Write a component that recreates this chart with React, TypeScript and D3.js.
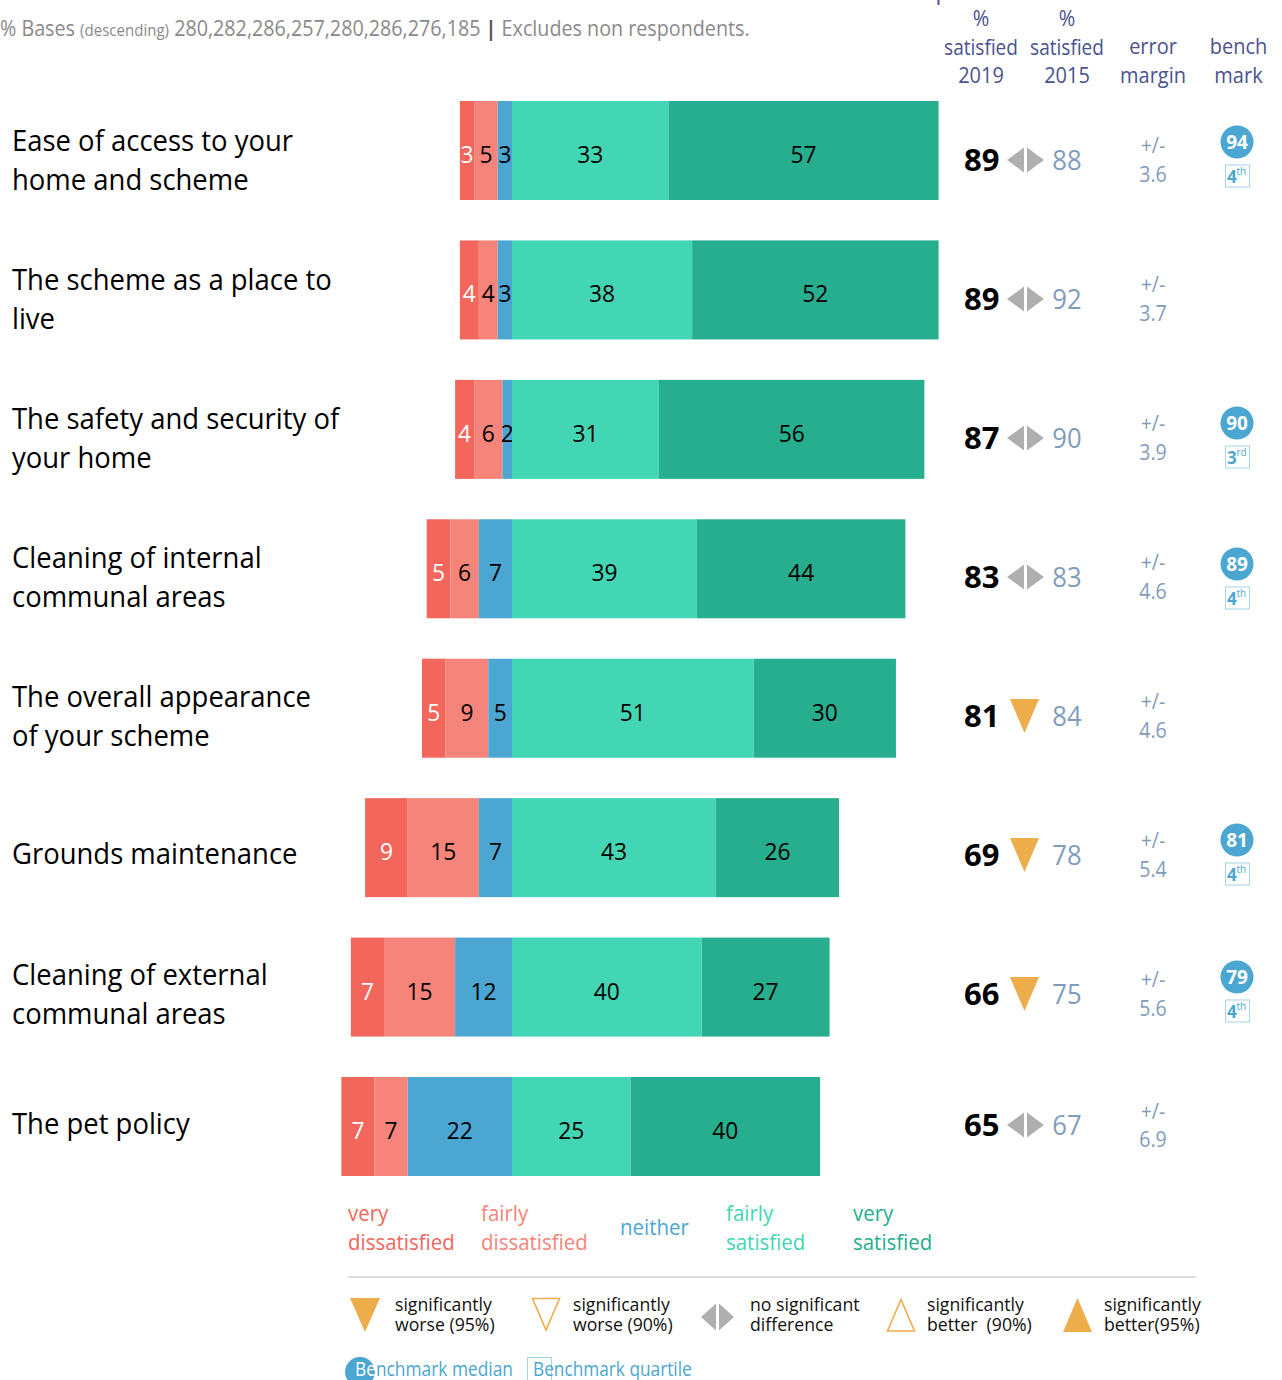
import React from "react";
import * as d3 from "d3";

const questions = [
  ["Ease of access to your", "home and scheme"],
  ["The scheme as a place to", "live"],
  ["The safety and security of", "your home"],
  ["Cleaning of internal", "communal areas"],
  ["The overall appearance", "of your scheme"],
  ["Grounds maintenance"],
  ["Cleaning of external", "communal areas"],
  ["The pet policy"],
];
const veryDissatisfied = [3, 4, 4, 5, 5, 9, 7, 7];
const fairlyDissatisfied = [5, 4, 6, 6, 9, 15, 15, 7];
const neither = [3, 3, 2, 7, 5, 7, 12, 22];
const fairlySatisfied = [33, 38, 31, 39, 51, 43, 40, 25];
const verySatisfied = [57, 52, 56, 44, 30, 26, 27, 40];
const satisfied2019 = [89, 89, 87, 83, 81, 69, 66, 65];
const satisfied2015 = [88, 92, 90, 83, 84, 78, 75, 67];
const errorMargin = ["3.6", "3.7", "3.9", "4.6", "4.6", "5.4", "5.6", "6.9"];
const significance = ["same", "same", "same", "same", "worse", "worse", "worse", "same"];
const benchmarkMedian = [94, null, 90, 89, null, 81, 79, null];
const benchmarkQuartile = [["4", "th"], null, ["3", "rd"], ["4", "th"], null, ["4", "th"], ["4", "th"], null];
const basesText = "280,282,286,257,280,286,276,185";

const RED = "#f2665c";
const SALMON = "#f5857a";
const BLUE = "#4ba6d2";
const MINT = "#42d6b5";
const TEAL = "#26ae8e";
const ORANGE = "#edad4b";
const GREY = "#afafaf";
const NAVY = "#4a5290";
const SLATE = "#7f9cbd";
const FONT = "'Open Sans', 'Noto Sans', sans-serif";

const rows = d3.range(questions.length);
const x = d3.scaleLinear().domain([0, 90]).range([512, 938.6]);
const barTop = d3.scalePoint<number>().domain(rows).range([101, 1077]);
const BAR_H = 99;
// Text column centre per row; the last row sits a little tighter than the rest.
const centreY = (i: number) => (i === 7 ? 1125 : 160 + 139 * i);
const medianShift = [-18, 0, -15, -13, 0, -15, -17, 0];

const line = d3.line();
const shape = (pts: [number, number][]) => line(pts) + "Z";

// Pair of grey arrowheads meaning no significant change.
function NoChange({ x0, cy, w, h, gap }: { x0: number; cy: number; w: number; h: number; gap: number }) {
  return (
    <g fill={GREY}>
      <path d={shape([[x0, cy], [x0 + w, cy - h / 2], [x0 + w, cy + h / 2]])} />
      <path d={shape([[x0 + w + gap, cy - h / 2], [x0 + 2 * w + gap, cy], [x0 + w + gap, cy + h / 2]])} />
    </g>
  );
}

// Squeezes text a little horizontally so Open Sans takes the narrower set width.
function T({ x: tx, y, size, fill, weight, anchor, children, sx = 0.93 }: any) {
  return (
    <text
      transform={`translate(${tx},${y}) scale(${sx},1)`}
      fontSize={size}
      fill={fill}
      fontWeight={weight}
      textAnchor={anchor}
      fontFamily={FONT}
      style={{ whiteSpace: "pre" }}
    >
      {children}
    </text>
  );
}

const headers = [
  { cx: 981, lines: ["%", "satisfied", "2019"] },
  { cx: 1067, lines: ["%", "satisfied", "2015"] },
  { cx: 1153, lines: ["error", "margin"] },
  { cx: 1238.5, lines: ["bench", "mark"] },
];

const responseLegend = [
  { tx: 348, lines: ["very", "dissatisfied"], fill: RED },
  { tx: 481, lines: ["fairly", "dissatisfied"], fill: SALMON },
  { tx: 620, lines: ["neither"], fill: BLUE },
  { tx: 726, lines: ["fairly", "satisfied"], fill: MINT },
  { tx: 853, lines: ["very", "satisfied"], fill: TEAL },
];

const significanceLegend = [
  { tx: 395, lines: ["significantly", "worse (95%)"] },
  { tx: 573, lines: ["significantly", "worse (90%)"] },
  { tx: 750, lines: ["no significant", "difference"] },
  { tx: 927, lines: ["significantly", "better  (90%)"] },
  { tx: 1104, lines: ["significantly", "better(95%)"] },
];

export default function App() {
  return (
    <svg
      width={1282}
      height={1380}
      style={{ position: "absolute", left: 0, top: 0, background: "#fff" }}
    >
      <line x1={938.5} x2={938.5} y1={0} y2={5} stroke={NAVY} strokeWidth={2} />

      <T x={0} y={36} size={21} fill="#8a8a8a" sx={0.94}>
        % Bases <tspan fontSize={16}>(descending)</tspan> {basesText} <tspan fill="#555" fontWeight={700}>|</tspan> Excludes non respondents.
      </T>

      {headers.map((h) => {
        const start = h.lines.length === 3 ? 26 : 54;
        return h.lines.map((l, k) => (
          <T key={h.cx + l} x={h.cx} y={start + k * 28.5} size={21.5} fill={NAVY} anchor="middle" sx={l === "satisfied" ? 0.885 : 0.93}>
            {l}
          </T>
        ));
      })}

      {rows.map((i) => {
        const top = barTop(i)!;
        const neg = [
          { v: veryDissatisfied[i], fill: RED, text: "#fff" },
          { v: fairlyDissatisfied[i], fill: SALMON, text: "#000" },
          { v: neither[i], fill: BLUE, text: "#000" },
        ];
        const pos = [
          { v: fairlySatisfied[i], fill: MINT, text: "#000" },
          { v: verySatisfied[i], fill: TEAL, text: "#000" },
        ];
        let cursor = -d3.sum(neg, (d) => d.v);
        const segs = [...neg, ...pos].map((d) => {
          const from = cursor;
          cursor += d.v;
          return { ...d, from, to: cursor };
        });
        const cy = centreY(i);
        const qLines = questions[i];
        const qStart = qLines.length === 2 ? cy - 9 : cy + 9;
        const m = benchmarkMedian[i];
        const q = benchmarkQuartile[i];
        const my = cy + medianShift[i];
        return (
          <g key={i}>
            {qLines.map((l, k) => (
              <T key={l} x={12} y={qStart + k * 39} size={30} fill="#000" sx={0.915}>
                {l}
              </T>
            ))}

            {segs.map((s) => (
              <g key={s.fill}>
                <rect x={x(s.from)} y={top} width={x(s.to) - x(s.from)} height={BAR_H} fill={s.fill} />
                <T x={(x(s.from) + x(s.to)) / 2} y={top + 62} size={24} fill={s.text} anchor="middle" sx={0.95}>
                  {s.v}
                </T>
              </g>
            ))}

            <T x={964} y={cy + 11} size={31} fill="#000" weight={700} sx={1}>
              {satisfied2019[i]}
            </T>
            {significance[i] === "same" ? (
              <NoChange x0={1007} cy={cy} w={17} h={25} gap={3} />
            ) : (
              <path
                d={shape([[1010, cy - 17], [1039, cy - 17], [1024.5, cy + 17]])}
                fill={ORANGE}
              />
            )}
            <T x={1067} y={cy + 10} size={27} fill={SLATE} anchor="middle" sx={0.95}>
              {satisfied2015[i]}
            </T>

            <T x={1153} y={cy + (i === 7 ? -6 : -7)} size={21} fill={SLATE} anchor="middle">
              +/-
            </T>
            <T x={1153} y={cy + 22} size={21} fill={SLATE} anchor="middle">
              {errorMargin[i]}
            </T>

            {m !== null && (
              <g>
                <circle cx={1237} cy={my} r={16.5} fill={BLUE} />
                <T x={1237} y={my + 7} size={20} fill="#fff" weight={700} anchor="middle" sx={0.95}>
                  {m}
                </T>
              </g>
            )}
            {q !== null && (
              <g>
                <rect x={1225.5} y={my + 23} width={24} height={22} fill="#fff" stroke="#a5d3ea" strokeWidth={1} />
                <T x={1227} y={my + 41} size={18} fill={BLUE} weight={700} sx={0.95}>
                  {q[0]}
                </T>
                <T x={1236.5} y={my + 33} size={10.5} fill={BLUE} sx={0.95}>
                  {q[1]}
                </T>
              </g>
            )}
          </g>
        );
      })}

      {responseLegend.map((g) =>
        g.lines.map((l, k) => (
          <T key={g.tx + l} x={g.tx} y={(g.lines.length === 2 ? 1220.5 : 1235) + k * 29} size={22} fill={g.fill} weight={500}>
            {l}
          </T>
        ))
      )}

      <line x1={348} x2={1196} y1={1277} y2={1277} stroke="#bbb" strokeWidth={1.2} />

      <path d={shape([[350, 1298], [380, 1298], [365, 1332]])} fill={ORANGE} />
      <path d={shape([[532.5, 1298.5], [559.5, 1298.5], [546, 1330]])} fill="none" stroke={ORANGE} strokeWidth={1.6} />
      <NoChange x0={701} cy={1317} w={15} h={27} gap={3} />
      <path d={shape([[887.5, 1331], [914.5, 1331], [901, 1299.5]])} fill="none" stroke={ORANGE} strokeWidth={1.6} />
      <path d={shape([[1063, 1332], [1092, 1332], [1077.5, 1298]])} fill={ORANGE} />
      {significanceLegend.map((g) =>
        g.lines.map((l, k) => (
          <T key={g.tx + l} x={g.tx} y={1311 + k * 20} size={19} fill="#111">
            {l}
          </T>
        ))
      )}

      <circle cx={360} cy={1372} r={15} fill={BLUE} />
      <T x={355} y={1376} size={19.5} fill={BLUE} sx={0.89}>
        <tspan fill="#fff">Be</tspan>nchmark median
      </T>
      <rect x={527.5} y={1357.5} width={24} height={30} fill="none" stroke="#a5d3ea" strokeWidth={1} />
      <T x={533} y={1376} size={19.5} fill={BLUE} sx={0.885}>
        Benchmark quartile
      </T>
    </svg>
  );
}
